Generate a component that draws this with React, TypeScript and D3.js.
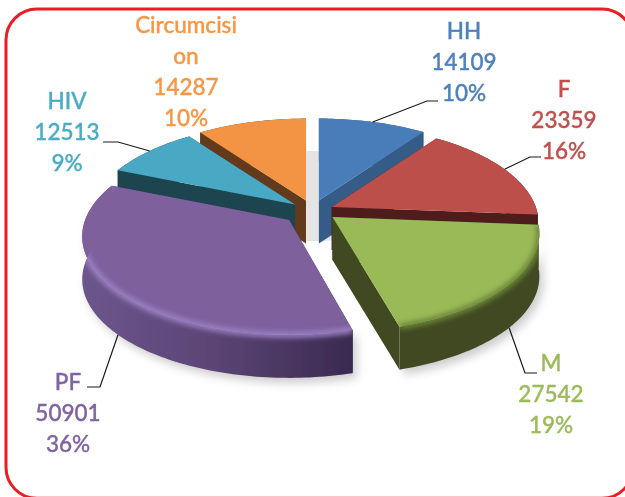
import * as d3 from "d3";

const names = ["HH", "F", "M", "PF", "HIV", "Circumcision"];
const values = [14109, 23359, 27542, 50901, 12513, 14287];
const nameLines = [["HH"], ["F"], ["M"], ["PF"], ["HIV"], ["Circumcisi", "on"]];

const topColors = ["#4a7db9", "#bd4f4c", "#9aba58", "#7e609d", "#4aa9c4", "#f39445"];
const wallColors = ["#345c86", "#4f1b1b", "#404a22", "#4c3762", "#1e4450", "#643a1c"];
const textColors = ["#4f81bd", "#c0504d", "#9bbb59", "#8064a2", "#4bacc6", "#f79646"];

// how far each slice is pulled out, and a small trim of its first edge
const explodeXs = [29, 24, 29, 28, 19, 13];
const explodeYs = [12, 12, 8, 12, 12, 12];
const trimStart = [0, 0, 0, 0.015, 0, 0];

// label block centre x / first baseline, then leader elbow and end
const labelPos: [number, number][] = [
  [464, 39],
  [564, 97],
  [551, 371],
  [68, 390],
  [67, 109],
  [186, 33],
];
const leaders: ([number, number][] | null)[] = [
  [[427, 101], [438, 101]],
  [[530, 157], [541, 157]],
  [[525, 373], [537, 373]],
  [[100, 387], [87, 387]],
  [[118, 142], [103, 142]],
  null,
];

const W = 625;
const H = 497;
const cx = 310;
const cy = 212;
const rx = 204;
const ry = 95.7;
const persp = 0.167;
const depth = 43;
const lineH = 31;

const total = d3.sum(values);
const pct = d3.format(".0%");
const pie = d3.pie<number>().sort(null).value((d) => d);
const arcs = pie(values);

type P = [number, number];
const line = d3.line<P>();

const rimPoint = (a: number): P => {
  const s = Math.sin(a);
  const c = Math.cos(a);
  const w = 1 / (1 + persp * c);
  return [rx * s * w, -ry * c * w];
};

const slices = arcs.map((d, i) => {
  const mid = (d.startAngle + d.endAngle) / 2;
  const ax = cx + explodeXs[i] * Math.sin(mid);
  const ay = cy - explodeYs[i] * Math.cos(mid);
  const a0 = d.startAngle + trimStart[i];
  const n = Math.ceil((d.endAngle - a0) / 0.02);
  const rim = d3.range(n + 1).map((k): P => {
    const p = rimPoint(a0 + ((d.endAngle - a0) * k) / n);
    return [ax + p[0], ay + p[1]];
  });
  const apex: P = [ax, ay];
  const low = (p: P): P => [p[0], p[1] + depth];
  const first = rim[0];
  const last = rim[rim.length - 1];
  const m = rimPoint(mid);
  const front = Math.cos(mid) < 0;
  return {
    i,
    mid,
    apex,
    rim,
    top: line([apex, ...rim])! + "Z",
    rimWall: line([...rim, ...rim.map(low).reverse()])! + "Z",
    wallA: line([apex, first, low(first), low(apex)])! + "Z",
    wallB: line([apex, last, low(last), low(apex)])! + "Z",
    rimLine: line(rim)!,
    anchor: [ax + m[0], ay + m[1] + (front ? depth : 0)] as P,
  };
});

const painted = [...slices].sort((a, b) => d3.descending(Math.cos(a.mid), Math.cos(b.mid)));

export default function App() {
  return (
    <svg
      width={W}
      height={H}
      viewBox={`0 0 ${W} ${H}`}
      style={{ position: "fixed", left: 0, top: 0, background: "#fff" }}
      fontFamily="Lato, Carlito, sans-serif"
    >
      <defs>
        <filter id="soft" x="-20%" y="-20%" width="140%" height="140%">
          <feGaussianBlur stdDeviation="5" />
        </filter>
        <filter id="edge" x="-20%" y="-20%" width="140%" height="140%">
          <feGaussianBlur stdDeviation="2.5" />
        </filter>
        <filter id="scan" x="-5%" y="-5%" width="110%" height="110%">
          <feGaussianBlur stdDeviation="0.45" />
        </filter>
        <linearGradient id="pfRim" gradientUnits="userSpaceOnUse" x1="82" x2="352" y1="0" y2="0">
          <stop offset="0" stopColor="#6c568c" />
          <stop offset="0.5" stopColor="#5a4474" />
          <stop offset="1" stopColor="#3a2a50" />
        </linearGradient>
        {slices.map((s) => (
          <clipPath id={`clip${s.i}`} key={s.i}>
            <path d={s.rimWall} />
            <path d={s.top} />
          </clipPath>
        ))}
      </defs>

      <rect x={6} y={9} width={627} height={489.3} rx={31} fill="none" stroke="#ed1c24" strokeWidth={3} />

      {/* soft shadow under the pie */}
      <ellipse cx={cx + 2} cy={cy - 16} rx={110} ry={45} fill="#000" opacity={0.1} filter="url(#scan)" />
      <g filter="url(#soft)" opacity={0.2} transform="translate(4,5)">
        {slices
          .filter((s) => names[s.i] === "PF" || names[s.i] === "M")
          .map((s) => (
            <path key={s.i} d={s.rimWall} fill="#000" />
          ))}
      </g>

      <g filter="url(#scan)">
        {painted.map((s) => (
          <g key={s.i}>
            <path d={s.wallA} fill={wallColors[s.i]} />
            <path d={s.wallB} fill={wallColors[s.i]} />
            <path d={s.rimWall} fill={names[s.i] === "PF" ? "url(#pfRim)" : wallColors[s.i]} />
            <path d={s.top} fill={topColors[s.i]} />
            {(names[s.i] === "PF" || names[s.i] === "M") && (
              <g clipPath={`url(#clip${s.i})`}>
                <path
                  d={s.rimLine}
                  fill="none"
                  stroke={names[s.i] === "PF" ? "#9a80c2" : "#6d8538"}
                  strokeWidth={6}
                  filter="url(#edge)"
                />
              </g>
            )}
          </g>
        ))}
      </g>

      {leaders.map((l, i) =>
        l ? (
          <path
            key={i}
            d={line([slices[i].anchor, ...l])!}
            fill="none"
            stroke="#1a1a1a"
            strokeWidth={1.2}
          />
        ) : null,
      )}

      <g filter="url(#scan)">
        {names.map((_, i) => {
          const rows = [...nameLines[i], String(values[i]), pct(values[i] / total)];
          return (
            <text
              key={i}
              textAnchor="middle"
              fontSize={22.5}
              fontWeight={500}
              fill={textColors[i]}
              stroke={textColors[i]}
              strokeWidth={0.35}
            >
              {rows.map((r, k) => (
                <tspan key={k} x={labelPos[i][0]} y={labelPos[i][1] + k * lineH}>
                  {r}
                </tspan>
              ))}
            </text>
          );
        })}
      </g>
    </svg>
  );
}
